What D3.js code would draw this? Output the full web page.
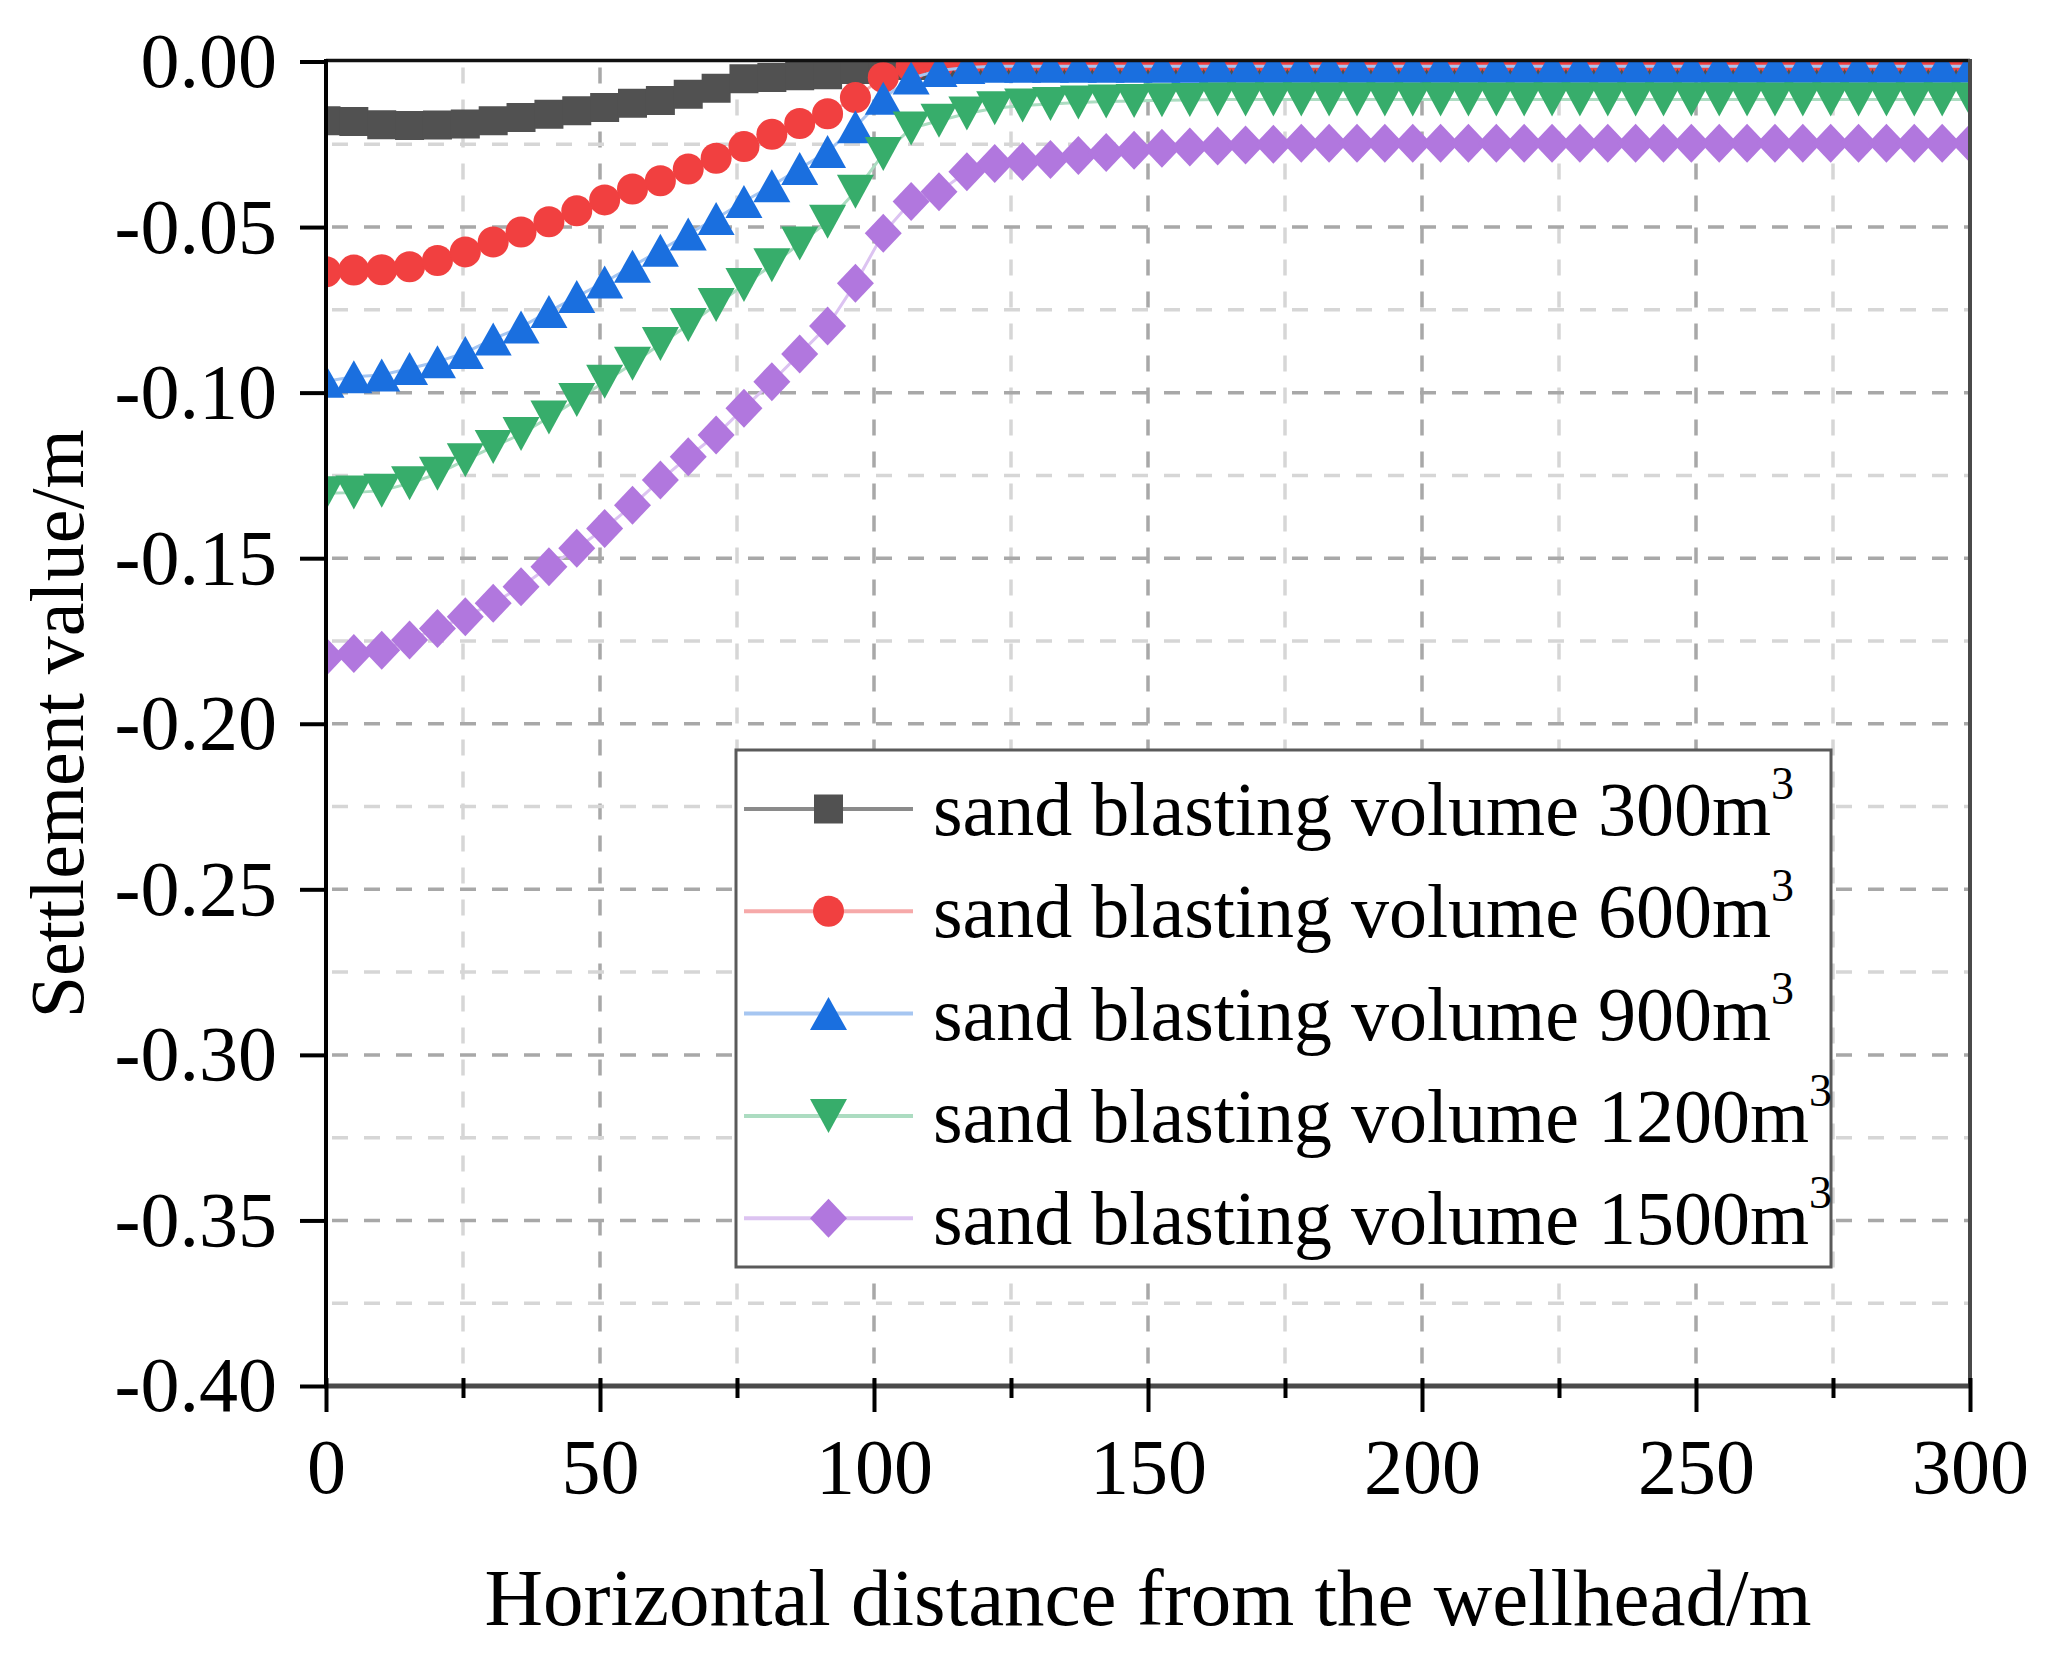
<!DOCTYPE html>
<html><head><meta charset="utf-8">
<script src="https://cdn.jsdelivr.net/npm/d3@7"></script>
<style>body{margin:0;background:#fff}</style>
</head><body><svg id="c" width="2046" height="1669"></svg>
<script>
// ---------- DATA ----------
const xValues = [0,5.08,10.17,15.25,20.34,25.42,30.51,35.59,40.68,45.76,
  50.85,55.93,61.02,66.10,71.19,76.27,81.36,86.44,91.53,96.61,
  101.69,106.78,111.86,116.95,122.03,127.12,132.20,137.29,142.37,147.46,
  152.54,157.63,162.71,167.80,172.88,177.97,183.05,188.14,193.22,198.31,
  203.39,208.47,213.56,218.64,223.73,228.81,233.90,238.98,244.07,249.15,
  254.24,259.32,264.41,269.49,274.58,279.66,284.75,289.83,294.92,300];

const s300 = [-0.0179,-0.0181,-0.0191,-0.0193,-0.0192,-0.0189,-0.0179,-0.0169,-0.0159,-0.0149,
  -0.0139,-0.0126,-0.0118,-0.0099,-0.0081,-0.0052,-0.0048,-0.0043,-0.0040,-0.0024,
  -0.0015,-0.0012,-0.0012,-0.0011,-0.0011,-0.0010,-0.0010,-0.0010,-0.0010,-0.0010,
  -0.0010,-0.0010,-0.0010,-0.0010,-0.0010,-0.0010,-0.0010,-0.0010,-0.0010,-0.0010,
  -0.0010,-0.0010,-0.0010,-0.0010,-0.0010,-0.0010,-0.0010,-0.0010,-0.0010,-0.0010,
  -0.0010,-0.0010,-0.0010,-0.0010,-0.0010,-0.0010,-0.0010,-0.0010,-0.0010,-0.0010];

const s600 = [-0.0635,-0.0630,-0.0629,-0.0620,-0.0601,-0.0575,-0.0545,-0.0515,-0.0484,-0.0451,
  -0.0418,-0.0385,-0.0360,-0.0325,-0.0292,-0.0257,-0.0220,-0.0187,-0.0158,-0.0109,
  -0.0048,-0.0015,-0.0006,-0.0002,-0.0002,-0.0002,-0.0002,-0.0002,-0.0002,-0.0002,
  -0.0002,-0.0002,-0.0002,-0.0002,-0.0002,-0.0002,-0.0002,-0.0002,-0.0002,-0.0002,
  -0.0002,-0.0002,-0.0002,-0.0002,-0.0002,-0.0002,-0.0002,-0.0002,-0.0002,-0.0002,
  -0.0002,-0.0002,-0.0002,-0.0002,-0.0002,-0.0002,-0.0002,-0.0002,-0.0002,-0.0002];

const s900 = [-0.0966,-0.0952,-0.0947,-0.0927,-0.0907,-0.0879,-0.0838,-0.0802,-0.0755,-0.0710,
  -0.0666,-0.0618,-0.0570,-0.0521,-0.0474,-0.0423,-0.0375,-0.0323,-0.0272,-0.0197,
  -0.0111,-0.0050,-0.0027,-0.0018,-0.0014,-0.0014,-0.0014,-0.0014,-0.0014,-0.0014,
  -0.0014,-0.0014,-0.0014,-0.0014,-0.0014,-0.0014,-0.0014,-0.0014,-0.0014,-0.0014,
  -0.0014,-0.0014,-0.0014,-0.0014,-0.0014,-0.0014,-0.0014,-0.0014,-0.0014,-0.0014,
  -0.0014,-0.0014,-0.0014,-0.0014,-0.0014,-0.0014,-0.0014,-0.0014,-0.0014,-0.0014];

const s1200 = [-0.1304,-0.1302,-0.1296,-0.1274,-0.1245,-0.1204,-0.1164,-0.1125,-0.1075,-0.1022,
  -0.0967,-0.0913,-0.0853,-0.0796,-0.0735,-0.0675,-0.0615,-0.0550,-0.0484,-0.0393,
  -0.0279,-0.0202,-0.0179,-0.0157,-0.0141,-0.0133,-0.0128,-0.0124,-0.0121,-0.0119,
  -0.0117,-0.0116,-0.0115,-0.0115,-0.0115,-0.0115,-0.0115,-0.0115,-0.0115,-0.0115,
  -0.0115,-0.0115,-0.0115,-0.0115,-0.0115,-0.0115,-0.0115,-0.0115,-0.0115,-0.0115,
  -0.0115,-0.0115,-0.0115,-0.0115,-0.0115,-0.0115,-0.0115,-0.0115,-0.0115,-0.0115];

const s1500 = [-0.1798,-0.1788,-0.1778,-0.1747,-0.1712,-0.1677,-0.1636,-0.1586,-0.1526,-0.1470,
  -0.1410,-0.1340,-0.1264,-0.1194,-0.1128,-0.1047,-0.0967,-0.0883,-0.0799,-0.0670,
  -0.0519,-0.0423,-0.0393,-0.0333,-0.0308,-0.0302,-0.0296,-0.0284,-0.0275,-0.0268,
  -0.0262,-0.0258,-0.0255,-0.0252,-0.0250,-0.0247,-0.0247,-0.0247,-0.0247,-0.0247,
  -0.0247,-0.0247,-0.0247,-0.0247,-0.0247,-0.0247,-0.0247,-0.0247,-0.0247,-0.0247,
  -0.0247,-0.0247,-0.0247,-0.0247,-0.0247,-0.0247,-0.0247,-0.0247,-0.0247,-0.0247];

const seriesLabels = ["sand blasting volume 300m", "sand blasting volume 600m",
  "sand blasting volume 900m", "sand blasting volume 1200m", "sand blasting volume 1500m"];
const labelSup = "3";
const xTicks = [0,50,100,150,200,250,300];
const xMinorTicks = [25,75,125,175,225,275];
const xGrid = [25,50,75,100,125,150,175,200,225,250,275];
const yTicks = [0,-0.05,-0.10,-0.15,-0.20,-0.25,-0.30,-0.35,-0.40];
const yGrid = [-0.025,-0.05,-0.075,-0.10,-0.125,-0.15,-0.175,-0.20,-0.225,-0.25,-0.275,-0.30,-0.325,-0.35,-0.375];
const yTickLabels = ["0.00","-0.05","-0.10","-0.15","-0.20","-0.25","-0.30","-0.35","-0.40"];
const xTitle = "Horizontal distance from the wellhead/m";
const yTitle = "Settlement value/m";

// ---------- STYLE ----------
const FONT = '"Liberation Serif","Times New Roman",Times,serif';
const styles = [
  {values:s300, color:"#515151", line:"#8a8a8a", sym:"square"},
  {values:s600, color:"#F14040", line:"#f6a9a9", sym:"circle"},
  {values:s900, color:"#1A6FDF", line:"#a6c6f1", sym:"up"},
  {values:s1200, color:"#37AD6B", line:"#acdcc1", sym:"down"},
  {values:s1500, color:"#B177DE", line:"#dcc3f1", sym:"diamond"}
];
const shapes = {
  square: "M-14.5,-14.5h29v29h-29z",
  circle: "M-15.5,0a15.5,15.5 0 1,0 31,0a15.5,15.5 0 1,0 -31,0z",
  up: "M0,-16.5L18.5,16.5L-18.5,16.5Z",
  down: "M0,17L18.5,-17L-18.5,-17Z",
  diamond: "M0,-19.5L18.5,0L0,19.5L-18.5,0Z"
};

const W=2046, H=1669;
const L=326, R=1970, T=61.5, B=1386;
const x = d3.scaleLinear().domain([0,300]).range([L,R]);
const y = d3.scaleLinear().domain([-0.4,0]).range([B,T]);

const svg = d3.select("#c");
svg.append("rect").attr("width",W).attr("height",H).attr("fill","#fff");

// grid
const grid = svg.append("g");
xGrid.forEach(v=>{
  const major = v%50===0;
  grid.append("line").attr("x1",x(v)).attr("x2",x(v)).attr("y1",T).attr("y2",B)
    .attr("stroke",major?"#a8a8a8":"#d6d6d6").attr("stroke-width",3.5)
    .attr("stroke-dasharray","16,16").attr("stroke-dashoffset",-6);
});
yGrid.forEach(v=>{
  const major = Math.round(Math.abs(v)*1000)%50===0;
  grid.append("line").attr("x1",L).attr("x2",R).attr("y1",y(v)).attr("y2",y(v))
    .attr("stroke",major?"#a8a8a8":"#d6d6d6").attr("stroke-width",3.5)
    .attr("stroke-dasharray","16,16").attr("stroke-dashoffset",-6);
});

// series
svg.append("clipPath").attr("id","pc").append("rect")
  .attr("x",L).attr("y",T).attr("width",R-L).attr("height",B-T);
const plot = svg.append("g").attr("clip-path","url(#pc)");
const lineGen = d3.line().x((d,i)=>x(xValues[i])).y(d=>y(d));
styles.forEach(s=>{
  plot.append("path").datum(s.values).attr("d",lineGen)
    .attr("fill","none").attr("stroke",s.line).attr("stroke-width",3);
  plot.append("g").selectAll("path").data(s.values).join("path")
    .attr("transform",(d,i)=>`translate(${x(xValues[i])},${y(d)})`)
    .attr("d",shapes[s.sym]).attr("fill",s.color);
});

// frame
svg.append("line").attr("x1",L).attr("x2",R).attr("y1",T-1).attr("y2",T-1).attr("stroke","#111").attr("stroke-width",3.5);
svg.append("line").attr("x1",R).attr("x2",R).attr("y1",T-2.5).attr("y2",B).attr("stroke","#4a4a4a").attr("stroke-width",4);
svg.append("line").attr("x1",L-2).attr("x2",R+2).attr("y1",B).attr("y2",B).attr("stroke","#4a4a4a").attr("stroke-width",5);
svg.append("line").attr("x1",L).attr("x2",L).attr("y1",T-2.5).attr("y2",B+2).attr("stroke","#000").attr("stroke-width",4);

// y axis
const ga = svg.append("g").attr("transform",`translate(${L},0)`)
  .call(d3.axisLeft(y).tickValues(yTicks).tickFormat((d,i)=>yTickLabels[i]).tickSize(26).tickPadding(23));
ga.attr("font-family",FONT).attr("font-size",78);
ga.select(".domain").remove();
ga.selectAll(".tick line").attr("stroke","#000").attr("stroke-width",4);
ga.selectAll(".tick text").attr("fill","#000");

// x axis
const gb = svg.append("g").attr("transform",`translate(0,${B})`)
  .call(d3.axisBottom(x).tickValues(xTicks).tickSize(26).tickPadding(26));
gb.attr("font-family",FONT).attr("font-size",78);
gb.select(".domain").remove();
gb.selectAll(".tick line").attr("y1",-8).attr("stroke","#000").attr("stroke-width",4);
gb.selectAll(".tick text").attr("fill","#000");
const gm = svg.append("g").attr("transform",`translate(0,${B})`)
  .call(d3.axisBottom(x).tickValues(xMinorTicks).tickSize(12).tickFormat(""));
gm.select(".domain").remove();
gm.selectAll(".tick line").attr("y1",-8).attr("stroke","#000").attr("stroke-width",4);

// titles
svg.append("text").attr("x",(L+R)/2).attr("y",1625).attr("text-anchor","middle")
  .attr("font-family",FONT).attr("font-size",81).attr("fill","#000").text(xTitle);
svg.append("text").attr("transform",`translate(83,${(T+B)/2}) rotate(-90)`).attr("text-anchor","middle")
  .attr("font-family",FONT).attr("font-size",76).attr("fill","#000").text(yTitle);

// legend
const lg = svg.append("g");
lg.append("rect").attr("x",736).attr("y",750).attr("width",1095).attr("height",517)
  .attr("fill","#fff").attr("stroke","#5a5a5a").attr("stroke-width",3);
styles.forEach((s,i)=>{
  const cy = 809 + i*102.3;
  lg.append("line").attr("x1",744).attr("x2",913).attr("y1",cy).attr("y2",cy)
    .attr("stroke",s.line).attr("stroke-width",4);
  lg.append("path").attr("transform",`translate(828.5,${cy})`).attr("d",shapes[s.sym]).attr("fill",s.color);
  const t = lg.append("text").attr("x",933).attr("y",cy+26)
    .attr("font-family",FONT).attr("font-size",76).attr("fill","#000");
  t.append("tspan").text(seriesLabels[i]);
  t.append("tspan").attr("dy",-36).attr("font-size",46).text(labelSup);
});
</script></body></html>
